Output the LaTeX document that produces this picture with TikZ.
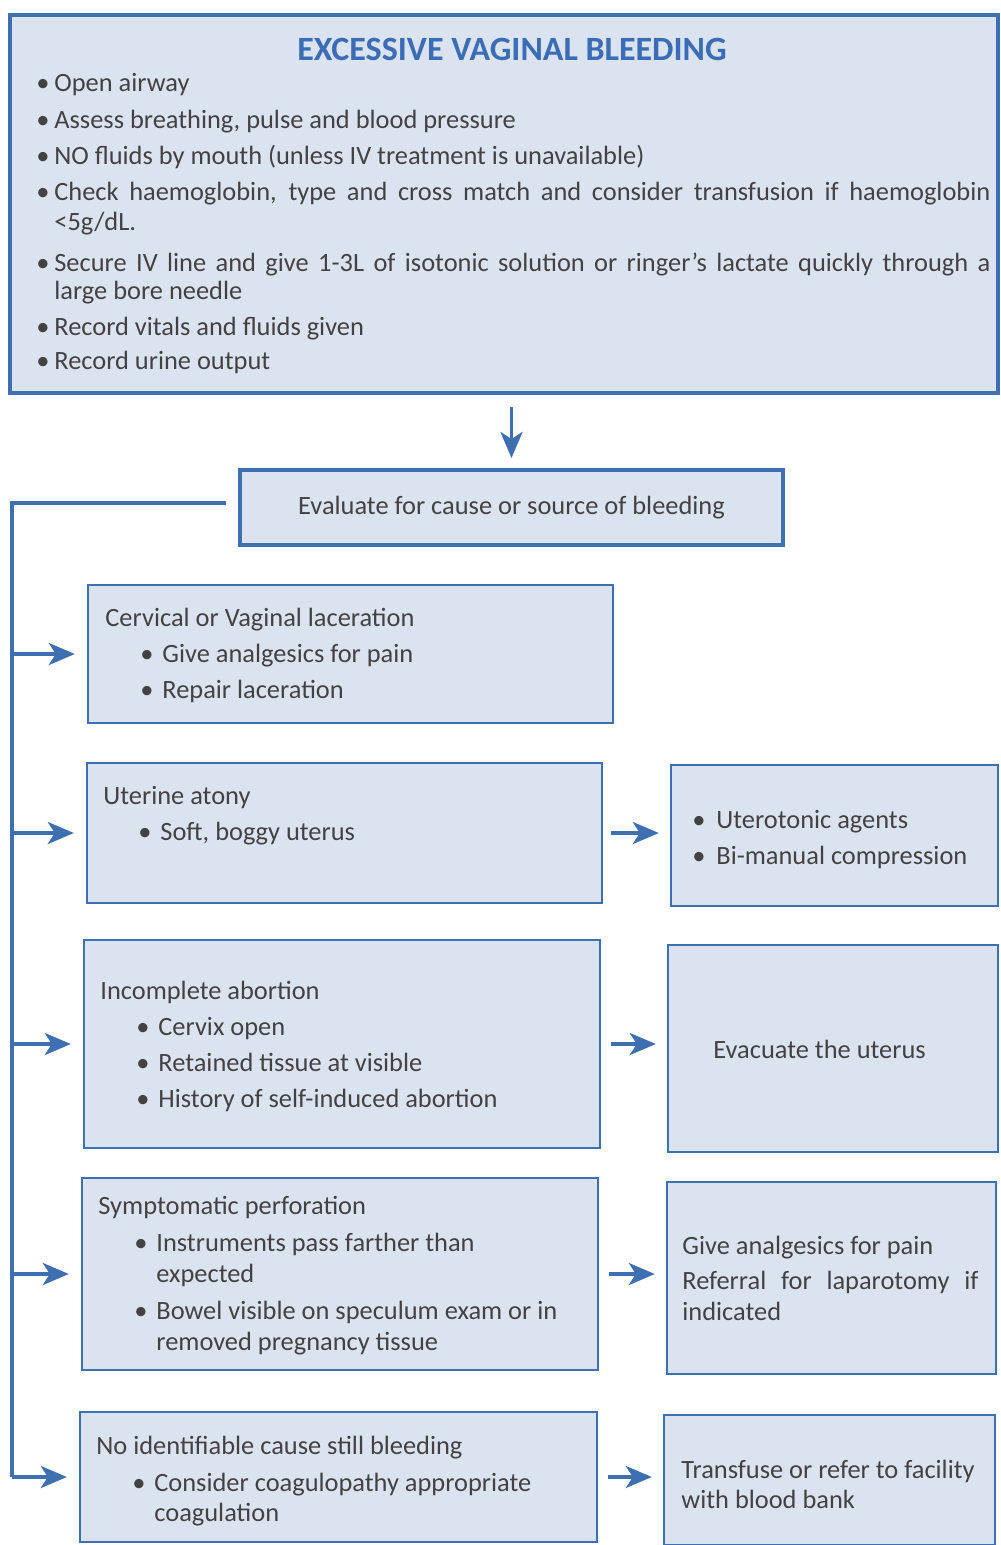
\documentclass[tikz,border=0pt]{standalone}
\usepackage{fontspec}
\setmainfont{Carlito}
\usetikzlibrary{arrows.meta}
\definecolor{bfill}{HTML}{DCE3F0}
\definecolor{bline}{HTML}{3E6FB0}
\definecolor{ttl}{HTML}{3A6DB5}
\definecolor{tgray}{HTML}{424242}
\newcommand{\bodyfont}{\fontsize{13.2}{18}\selectfont}
\newcommand{\tl}[4]{\node[txt] (#1) at (#2,#3) {#4};}
\newcommand{\bl}[6]{\node[txt] (#1) at (#2,#4) {\makebox[#3][l]{•}#5#6};}
\begin{document}
\begin{tikzpicture}[x=0.5pt,y=-0.5pt,
  box/.style={rectangle, draw=bline, fill=bfill, line width=1.2pt, inner sep=0pt},
  bigbox/.style={box, line width=2pt},
  txt/.style={anchor=base west, inner sep=0pt, text=tgray, font=\bodyfont, yshift=-4pt},
  arr/.style={color=bline, line width=1.8pt, -{Stealth[length=13pt,width=11pt,inset=3.5pt,fill=bline]}},
  trunk/.style={draw=bline, line width=2pt, line join=miter}
]
\clip (0,0) rectangle (1000,1545);
\fill[white] (0,0) rectangle (1000,1545);

% boxes
\node[bigbox, minimum width=494pt, minimum height=189pt] (top) at (504,204) {};
\node[bigbox, minimum width=271.5pt, minimum height=37.5pt, text=tgray, font=\bodyfont] (ev) at (511.5,507.5) {Evaluate for cause or source of bleeding};
\node[box, minimum width=262.5pt, minimum height=69pt] (b1) at (350.5,654) {};
\node[box, minimum width=257.5pt, minimum height=70pt] (b2) at (344.5,833) {};
\node[box, minimum width=258pt, minimum height=104pt] (b3) at (342,1044) {};
\node[box, minimum width=258pt, minimum height=96pt] (b4) at (340,1274) {};
\node[box, minimum width=258.5pt, minimum height=65pt] (b5) at (338.5,1477) {};
\node[box, minimum width=163.5pt, minimum height=70.5pt] (r2) at (834.5,835.5) {};
\node[box, minimum width=165pt, minimum height=103.5pt] (r3) at (833,1048.5) {};
\node[box, minimum width=164.5pt, minimum height=96pt] (r4) at (831.5,1278) {};
\node[box, minimum width=165.5pt, minimum height=65pt] (r5) at (829.5,1480) {};

% top box text
\node[anchor=base, inner sep=0pt, text=ttl, font=\fontsize{17}{20}\selectfont\bfseries] (title) at (512,61) {EXCESSIVE VAGINAL BLEEDING};
\bl{a1}{36}{9pt}{84}{Open airway}{}
\bl{a2}{36}{9pt}{121}{Assess breathing, pulse and blood pressure}{}
\bl{a3}{36}{9pt}{157}{NO fluids by mouth (unless IV treatment is unavailable)}{}
\bl{a4}{36}{9pt}{193}{\makebox[468pt][s]{Check haemoglobin, type and cross match and consider transfusion if haemoglobin}}{}
\tl{a4b}{54}{223}{<5g/dL.}
\bl{a5}{36}{9pt}{264}{\makebox[468pt][s]{Secure IV line and give 1-3L of isotonic solution or ringer’s lactate quickly through a}}{}
\tl{a5b}{54}{292}{large bore needle}
\bl{a6}{36}{9pt}{328}{Record vitals and fluids given}{}
\bl{a7}{36}{9pt}{362}{Record urine output}{}

% box 1
\tl{c0}{105}{618}{Cervical or Vaginal laceration}
\bl{c1}{140}{11pt}{654}{Give analgesics for pain}{}
\bl{c2}{140}{11pt}{690}{Repair laceration}{}
% box 2
\tl{u0}{103}{796}{Uterine atony}
\bl{u1}{138}{11pt}{832}{Soft, boggy uterus}{}
% box 3
\tl{i0}{100}{991}{Incomplete abortion}
\bl{i1}{136}{11pt}{1027}{Cervix open}{}
\bl{i2}{136}{11pt}{1063}{Retained tissue at visible}{}
\bl{i3}{136}{11pt}{1099}{History of self-induced abortion}{}
% box 4
\tl{p0}{98}{1206}{Symptomatic perforation}
\bl{p1}{134}{11pt}{1243}{Instruments pass farther than}{}
\tl{p1b}{156}{1274}{expected}
\bl{p2}{134}{11pt}{1311}{Bowel visible on speculum exam or in}{}
\tl{p2b}{156}{1342}{removed pregnancy tissue}
% box 5
\tl{n0}{96}{1446}{No identifiable cause still bleeding}
\bl{n1}{132}{11pt}{1483}{Consider coagulopathy appropriate}{}
\tl{n1b}{154}{1513}{coagulation}
% right boxes
\bl{s1}{692}{12pt}{820}{Uterotonic agents}{}
\bl{s2}{692}{12pt}{856}{Bi-manual compression}{}
\tl{e1}{713}{1050}{Evacuate the uterus}
\tl{g1}{682}{1246}{Give analgesics for pain}
\tl{g2}{682}{1281}{\makebox[148pt][s]{Referral for laparotomy if}}
\tl{g3}{682}{1312}{indicated}
\tl{f1}{681}{1470}{Transfuse or refer to facility}
\tl{f2}{681}{1500}{with blood bank}

% connectors
\draw[arr, shorten <=6pt, shorten >=5pt] (ev.north |- top.south) -- (ev.north);
\coordinate (jt) at (12,503);
\draw[trunk, shorten <=6pt] (ev.west |- jt) -- (jt) -- (jt |- b5.west);
\foreach \b in {b1,b2,b3,b4,b5}{
  \draw[arr, shorten >=6pt] (jt |- \b.west) -- (\b.west);
}
\draw[arr, shorten <=4pt, shorten >=5.5pt] (b2.east) -- (b2.east -| r2.west);
\draw[arr, shorten <=5pt, shorten >=5.5pt] (b3.east) -- (b3.east -| r3.west);
\draw[arr, shorten <=5pt, shorten >=5.5pt] (b4.east) -- (b4.east -| r4.west);
\draw[arr, shorten <=5pt, shorten >=5.5pt] (b5.east) -- (b5.east -| r5.west);
\end{tikzpicture}
\end{document}
